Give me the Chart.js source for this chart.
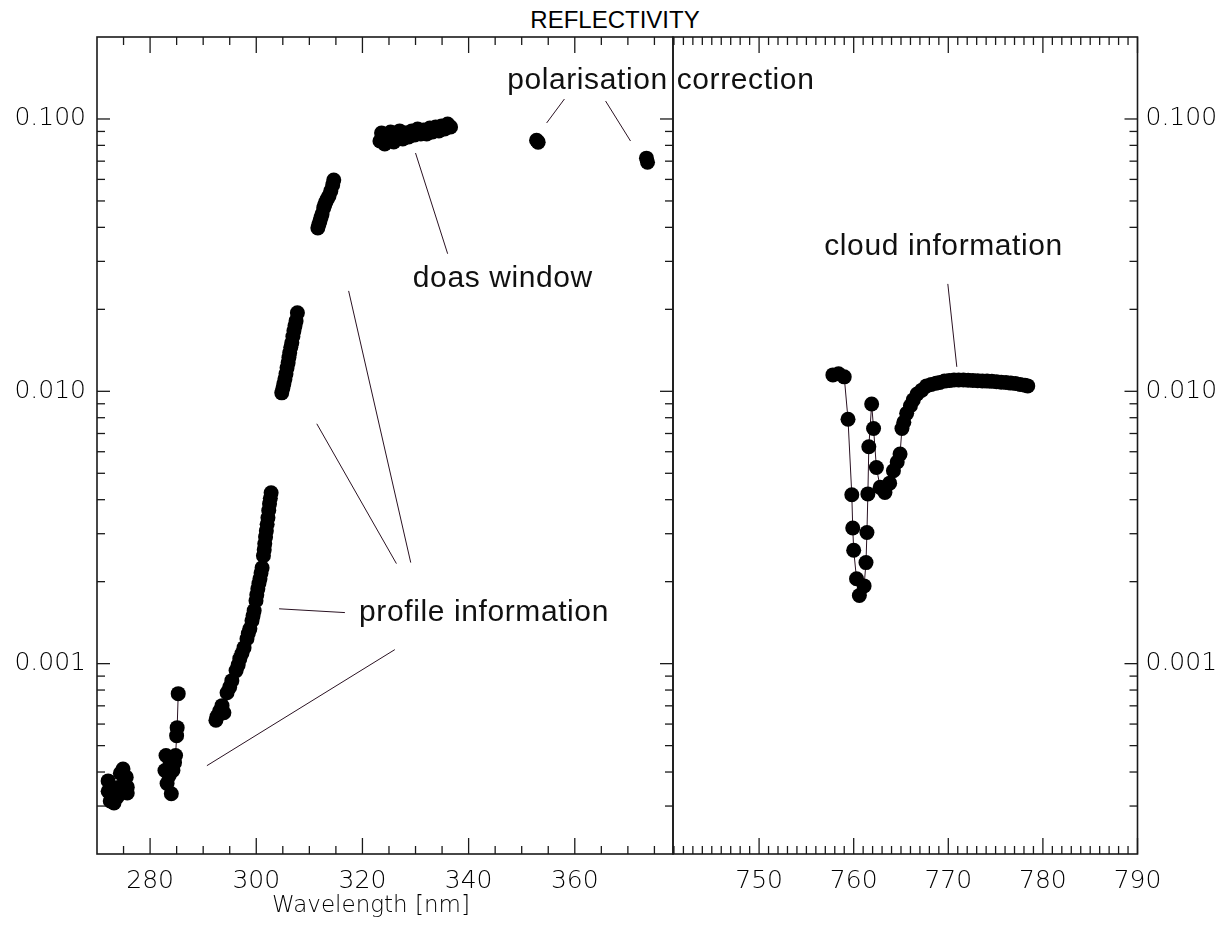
<!DOCTYPE html>
<html>
<head>
<meta charset="utf-8">
<title>Reflectivity</title>
<script src="https://cdn.jsdelivr.net/npm/chart.js@4.4.1/dist/chart.umd.min.js"></script>
<style>
  body { margin: 0; background: #fff; }
  #wrap { position: relative; width: 1230px; height: 930px; }
  #wrap canvas { position: absolute; left: 0; top: 0; }
  #title { position: absolute; left: 0; top: 7px; width: 1230px; text-align: center;
           font: 24px "Liberation Sans", Arial, sans-serif; color: #000; line-height: 26px; }
</style>
</head>
<body>
<div id="wrap">
  <div id="title">REFLECTIVITY</div>
  <canvas id="uvPanel" width="1230" height="930"></canvas>
  <canvas id="nirPanel" width="1230" height="930"></canvas>
</div>
<script>
// ==========================================
// DATA  (wavelength nm, reflectivity)
// ==========================================
const band272 = [[272.1,0.000371],[272.1,0.00034],[272.5,0.000313],[273.2,0.000308],[273.8,0.000324],
  [274.2,0.000352],[274.4,0.000396],[274.9,0.00041],[275.5,0.000383],[275.7,0.000352],[275.7,0.000335]];
const band283 = [[282.8,0.000405],[283.0,0.00046],[283.2,0.000363],[283.6,0.000388],[283.8,0.000433],
  [284.0,0.000333],[284.3,0.000405],[284.6,0.000433],[284.8,0.00046],[285.0,0.000544],[285.1,0.000582],
  [285.3,0.000776]];
const band293 = [[292.4,0.00062],[292.6,0.000639],[293.1,0.00067],[293.55,0.000701],[293.9,0.00066],
  [294.5,0.000782],[295.0,0.00082],[295.4,0.000866],[296.2,0.000943],[296.6,0.00099],[296.9,0.001043],
  [297.3,0.00109],[297.7,0.001145],[298.25,0.001235],[298.5,0.00129],[298.8,0.001344],[299.2,0.001438],
  [299.4,0.0015],[299.6,0.001565],[299.95,0.001703],[300.1,0.00179],[300.3,0.001884],[300.5,0.00197],
  [300.7,0.00205],[300.9,0.00215],[301.1,0.002251],[301.35,0.00249],[301.5,0.00262],[301.6,0.002757],
  [301.75,0.00292],[301.9,0.003077],[302.05,0.00325],[302.2,0.003435],[302.35,0.00365],[302.5,0.003866],
  [302.65,0.00405],[302.8,0.004241]];
const band305 = [[304.8,0.00987],[305.0,0.01025],[305.2,0.01065],[305.4,0.0111],[305.6,0.0116],
  [305.8,0.0122],[306.0,0.01273],[306.15,0.0133],[306.3,0.01385],[306.5,0.0145],[306.7,0.01507],
  [306.9,0.0159],[307.1,0.01667],[307.3,0.0174],[307.5,0.01814],[307.75,0.01941]];
const band312 = [[311.6,0.0398],[311.8,0.041],[312.0,0.04222],[312.2,0.0435],[312.4,0.0448],[312.7,0.04714],
  [312.9,0.0484],[313.1,0.0496],[313.4,0.0509],[313.7,0.05218],[314.05,0.05444],[314.4,0.05726],
  [314.6,0.05973]];
const doasWindow = [[323.3,0.083],[323.6,0.0888],[324.2,0.081],[324.8,0.0859],[325.3,0.0896],[325.9,0.0823],
  [326.5,0.0866],[327.0,0.0904],[327.6,0.0845],[328.15,0.0888],[328.7,0.0859],[329.3,0.0904],[329.85,0.0873],
  [330.4,0.0919],[331.0,0.0881],[331.5,0.0911],[332.1,0.0881],[332.7,0.0927],[333.2,0.0896],[333.8,0.0935],
  [334.4,0.0904],[334.9,0.0943],[335.5,0.0919],[336.05,0.0959],[336.6,0.0935]];
const polar353 = [[352.8,0.0835],[353.1,0.0822]];
const polar373 = [[373.5,0.0718],[373.7,0.0694]];

const oxygenA = [[757.8,0.01149],[758.4,0.01159],[759.0,0.0113],[759.4,0.0079],[759.8,0.00417],
  [759.9,0.00315],[760.0,0.00261],[760.3,0.00205],[760.6,0.00178],[761.1,0.00193],[761.3,0.00235],
  [761.4,0.00303],[761.5,0.0042],[761.6,0.00626],[761.9,0.00898],[762.1,0.0073],[762.4,0.00525],
  [762.8,0.00444],[763.3,0.00425],[763.8,0.0046],[764.2,0.00511],[764.6,0.0055],[764.9,0.00588],
  [765.1,0.0073],[765.3,0.0077],[765.6,0.0083],[766.0,0.00885],[766.3,0.0093],[766.7,0.00977],
  [767.2,0.0101],[767.7,0.01047],[768.2,0.0106],[768.7,0.0107],[769.1,0.01077],[769.6,0.0109],
  [770.1,0.01095],[770.6,0.011],[771.1,0.011],[771.6,0.011],[772.1,0.01098],[772.6,0.01096],
  [773.1,0.01094],[773.6,0.01092],[774.1,0.0109],[774.6,0.01088],[775.1,0.01085],[775.6,0.0108],
  [776.1,0.01077],[776.6,0.01072],[777.1,0.01068],[777.6,0.0106],[778.1,0.01052],[778.4,0.01047]];

// axes
const yLabels = [0.001, 0.01, 0.1];
const yMinor = [0.0003,0.0004,0.0005,0.0006,0.0007,0.0008,0.0009,
                0.002,0.003,0.004,0.005,0.006,0.007,0.008,0.009,
                0.02,0.03,0.04,0.05,0.06,0.07,0.08,0.09];
const uvLabels = [280, 300, 320, 340, 360];
const uvMinor = [275,285,290,295,305,310,315,325,330,335,345,350,355,365,370,375];
const nirLabels = [750, 760, 770, 780, 790];
const nirMinor = [];
for (let w = 741; w < 790; w++) if (w % 10 !== 0) nirMinor.push(w);

// annotation pointers, in data coordinates
const uvPointers = [
  [[354.7,0.0967],[358.05,0.1184]],
  [[365.8,0.1164],[370.5,0.083]],
  [[330.0,0.075],[336.05,0.032]],
  [[304.3,0.00159],[316.7,0.00154]],
  [[290.7,0.000422],[326.1,0.001126]],
  [[311.4,0.0076],[326.4,0.00233]],
  [[317.4,0.02337],[329.1,0.00235]]
];
const uvNotes = [['polarisation correction',376.2,0.1378],['doas window',346.45,0.0259],['profile information',342.9,0.00154]];
const nirPointers = [[[769.95,0.0248],[770.9,0.0123]]];
const nirNotes = [['cloud information',769.5,0.0339]];

// ==========================================
// STYLE
// ==========================================
const AXIS = '#1a1a1a';
const POINTER = '#2a1222';
const tickFont = { family: 'DejaVu Sans', size: 25, weight: 200 };
const noteFont = '30px "Liberation Sans", Arial, sans-serif';

function toXY(arr) { return arr.map(p => ({ x: p[0], y: p[1] })); }

function seriesSet(list) {
  return list.map(s => ({
    data: toXY(s),
    showLine: true,
    borderColor: POINTER,
    borderWidth: 1,
    pointRadius: 7.5,
    pointBackgroundColor: '#000',
    pointBorderWidth: 0
  }));
}

// frame + inward ticks, IDL style
function makeFrame(cfg) {
  return {
    id: 'frame',
    afterDraw(chart) {
      const { ctx, chartArea: a, scales: { x, y } } = chart;
      ctx.save();
      ctx.strokeStyle = AXIS;
      ctx.lineWidth = 1.6;
      ctx.strokeRect(a.left, a.top, a.right - a.left, a.bottom - a.top);
      const seg = (x1, y1, x2, y2) => { ctx.beginPath(); ctx.moveTo(x1, y1); ctx.lineTo(x2, y2); ctx.stroke(); };
      ctx.lineWidth = 1.3;
      const xTicks = (vals, len) => vals.forEach(v => {
        const px = x.getPixelForValue(v);
        seg(px, a.bottom, px, a.bottom - len);
        seg(px, a.top, px, a.top + len);
      });
      xTicks(cfg.xMajor, 16);
      xTicks(cfg.xMinor, 8);
      const yTicks = (vals, len) => vals.forEach(v => {
        const py = y.getPixelForValue(v);
        if (cfg.ySides.includes('left')) seg(a.left, py, a.left + len, py);
        if (cfg.ySides.includes('right')) seg(a.right, py, a.right - len, py);
      });
      yTicks(yLabels, 13);
      yTicks(yMinor, 8);

      // pointer lines and notes
      ctx.strokeStyle = POINTER;
      ctx.lineWidth = 1;
      cfg.pointers.forEach(([p, q]) => seg(x.getPixelForValue(p[0]), y.getPixelForValue(p[1]),
                                             x.getPixelForValue(q[0]), y.getPixelForValue(q[1])));
      ctx.fillStyle = '#111';
      ctx.font = noteFont;
      ctx.letterSpacing = '0.6px';
      ctx.textAlign = 'center';
      ctx.textBaseline = 'middle';
      cfg.notes.forEach(([t, xv, yv]) => ctx.fillText(t, x.getPixelForValue(xv), y.getPixelForValue(yv)));
      ctx.letterSpacing = '0px';

      if (cfg.axisTitle) {
        ctx.fillStyle = '#000';
        ctx.font = '200 23px "DejaVu Sans"';
        ctx.fillText(cfg.axisTitle, x.getPixelForValue(cfg.axisTitleAt), a.bottom + 52);
      }
      ctx.restore();
    }
  };
}

function panelOptions(p) {
  return {
    responsive: false,
    animation: false,
    devicePixelRatio: 1,
    layout: { padding: { top: 37, bottom: 0, left: p.padLeft, right: p.padRight } },
    plugins: { legend: { display: false }, tooltip: { enabled: false } },
    scales: {
      x: {
        type: 'linear', min: p.xMin, max: p.xMax, position: 'bottom',
        afterBuildTicks: s => { s.ticks = p.xLabels.map(v => ({ value: v })); },
        afterFit: s => { s.height = 76; },
        ticks: { font: tickFont, color: '#000', padding: 12, maxRotation: 0, autoSkip: false },
        grid: { display: false, drawTicks: false },
        border: { display: false }
      },
      y: {
        type: 'logarithmic', min: 0.0002, max: 0.2, position: p.yPos,
        afterBuildTicks: s => { s.ticks = yLabels.map(v => ({ value: v })); },
        afterFit: s => { s.width = p.yWidth; },
        ticks: { font: tickFont, color: '#000', padding: p.yPad, callback: v => Number(v).toFixed(3) },
        grid: { display: false, drawTicks: false },
        border: { display: false }
      }
    }
  };
}

new Chart(document.getElementById('uvPanel'), {
  type: 'scatter',
  data: { datasets: seriesSet([band272, band283, band293, band305, band312, doasWindow, polar353, polar373]) },
  options: panelOptions({ padLeft: 0, padRight: 557, xMin: 270, xMax: 378.5, xLabels: uvLabels,
                          yPos: 'left', yWidth: 97, yPad: 11 }),
  plugins: [makeFrame({ xMajor: uvLabels, xMinor: uvMinor, ySides: ['left', 'right'],
                        pointers: uvPointers, notes: uvNotes,
                        axisTitle: 'Wavelength [nm]', axisTitleAt: 321.6 })]
});

new Chart(document.getElementById('nirPanel'), {
  type: 'scatter',
  data: { datasets: seriesSet([oxygenA]) },
  options: panelOptions({ padLeft: 673, padRight: 0, xMin: 740.9, xMax: 790, xLabels: nirLabels,
                          yPos: 'right', yWidth: 92.5, yPad: 8 }),
  plugins: [makeFrame({ xMajor: nirLabels, xMinor: nirMinor, ySides: ['right'],
                        pointers: nirPointers, notes: nirNotes })]
});
</script>
</body>
</html>
